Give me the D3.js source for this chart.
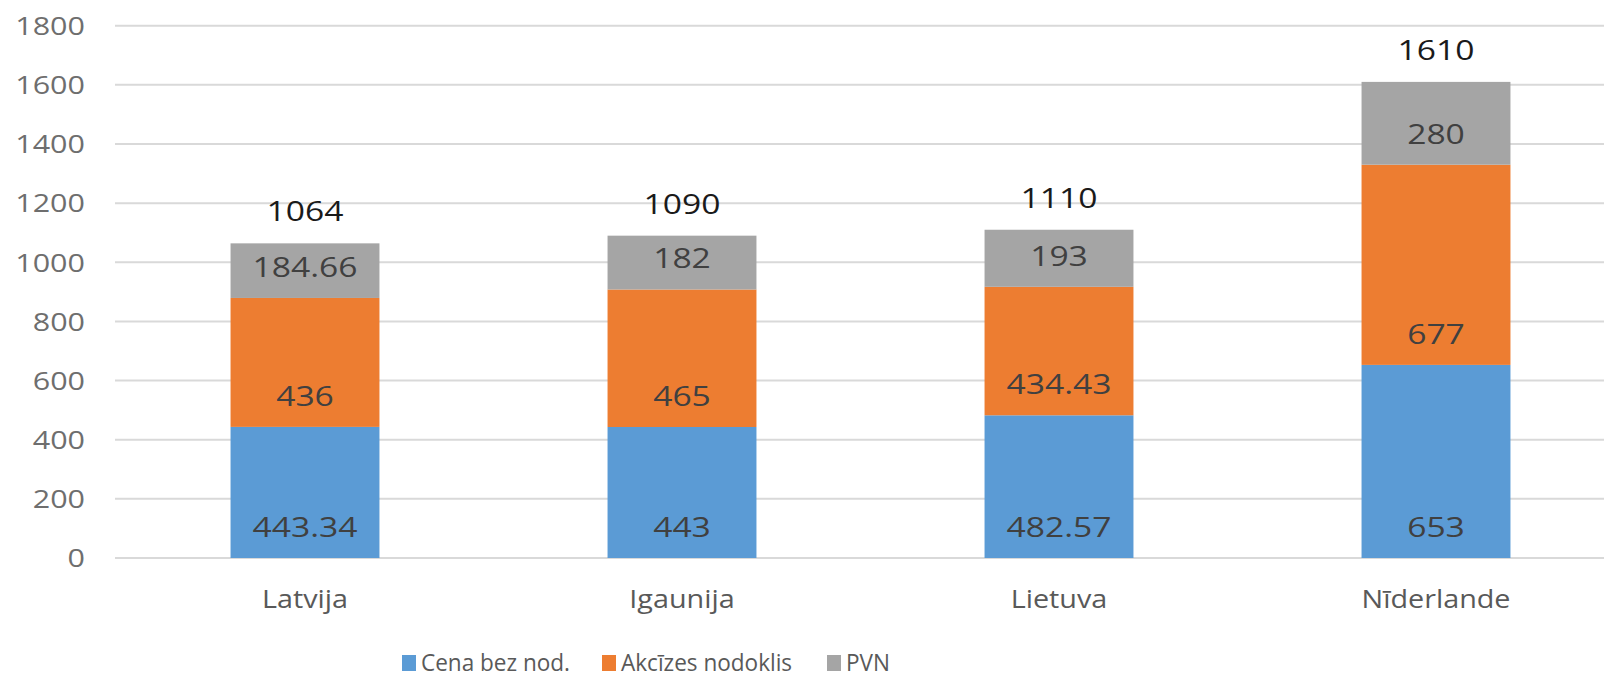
<!DOCTYPE html>
<html>
<head>
<meta charset="utf-8">
<script src="https://cdn.jsdelivr.net/npm/d3@7"></script>
<style>
  body { margin: 0; background: #fff; }
  text { font-family: "Open Sans", sans-serif; }
</style>
</head>
<body>
<div id="chart"></div>
<script>
const countries = ["Latvija", "Igaunija", "Lietuva", "Nīderlande"];
const seriesNames = ["Cena bez nod.", "Akcīzes nodoklis", "PVN"];
const cena = [443.34, 443, 482.57, 653];
const akcize = [436, 465, 434.43, 677];
const pvn = [184.66, 182, 193, 280];
const totals = [1064, 1090, 1110, 1610];
const yTicks = [0, 200, 400, 600, 800, 1000, 1200, 1400, 1600, 1800];
const colors = ["#5b9bd5", "#ed7d31", "#a5a5a5"];

const width = 1604, height = 677;

const values = {s0: cena, s1: akcize, s2: pvn};
const rows = countries.map((c, i) => ({country: c, idx: i, s0: cena[i], s1: akcize[i], s2: pvn[i]}));
const stack = d3.stack().keys(["s0", "s1", "s2"])(rows);

const svg = d3.select("#chart").append("svg")
  .attr("width", width)
  .attr("height", height);

const x = d3.scaleBand()
  .domain(countries)
  .range([116.5, 1624.5])
  .paddingInner(0.605)
  .paddingOuter(0.3025);

const y = d3.scaleLinear()
  .domain([0, 1800])
  .range([558, 25.7]);

// stretch text horizontally a little, the source font is wider
function stretch(sel, k) {
  sel.each(function() {
    const len = this.getComputedTextLength();
    d3.select(this).attr("textLength", len * k).attr("lengthAdjust", "spacingAndGlyphs");
  });
}

// grid
svg.append("g")
  .selectAll("line")
  .data(yTicks)
  .join("line")
  .attr("x1", 115)
  .attr("x2", width)
  .attr("y1", d => y(d))
  .attr("y2", d => y(d))
  .attr("stroke", "#d9d9d9")
  .attr("stroke-width", 2);

// y axis labels
const yAxis = svg.append("g")
  .attr("transform", "translate(85,0)")
  .call(d3.axisLeft(y).tickValues(yTicks).tickFormat(d3.format("d")).tickSize(0).tickPadding(0));
yAxis.select(".domain").remove();
yAxis.selectAll("text")
  .attr("fill", "#6e6e6e")
  .attr("font-size", 25)
  .attr("font-family", "Open Sans")
  .attr("dy", "0.35em")
  .call(stretch, 1.22);

// bars
const layers = svg.append("g")
  .selectAll("g")
  .data(stack)
  .join("g")
  .attr("fill", (d, i) => colors[i]);

layers.selectAll("rect")
  .data(d => d)
  .join("rect")
  .attr("x", d => x(d.data.country))
  .attr("width", x.bandwidth())
  .attr("y", d => y(d[1]))
  .attr("height", d => y(d[0]) - y(d[1]));

// segment labels (inside base)
layers.selectAll("text")
  .data(d => d.map(p => ({p, v: values[d.key][p.data.idx]})))
  .join("text")
  .attr("x", d => x(d.p.data.country) + x.bandwidth() / 2)
  .attr("y", d => y(d.p[0]) - 21)
  .attr("text-anchor", "middle")
  .attr("fill", "#404040")
  .attr("font-size", 28)
  .text(d => d.v)
  .call(stretch, 1.2);

// totals
svg.append("g")
  .selectAll("text")
  .data(countries)
  .join("text")
  .attr("x", d => x(d) + x.bandwidth() / 2)
  .attr("y", (d, i) => y(totals[i]) - 22)
  .attr("text-anchor", "middle")
  .attr("fill", "#1a1a1a")
  .attr("font-size", 28)
  .text((d, i) => totals[i])
  .call(stretch, 1.2);

// category labels
const xAxis = svg.append("g")
  .attr("transform", "translate(0,608)")
  .call(d3.axisBottom(x).tickSize(0).tickPadding(0));
xAxis.select(".domain").remove();
xAxis.selectAll("text")
  .attr("dy", 0)
  .attr("fill", "#595959")
  .attr("font-size", 25)
  .attr("font-family", "Open Sans")
  .call(stretch, 1.15);

// legend
const legendX = [402, 602, 827];
const legend = svg.append("g")
  .selectAll("g")
  .data(seriesNames)
  .join("g")
  .attr("transform", (d, i) => `translate(${legendX[i]},0)`);
legend.append("rect")
  .attr("y", 655)
  .attr("width", 14)
  .attr("height", 16)
  .attr("fill", (d, i) => colors[i]);
legend.append("text")
  .attr("x", 19)
  .attr("y", 671)
  .attr("fill", "#595959")
  .attr("font-size", 23)
  .text(d => d)
  .call(stretch, 0.98);
</script>
</body>
</html>
